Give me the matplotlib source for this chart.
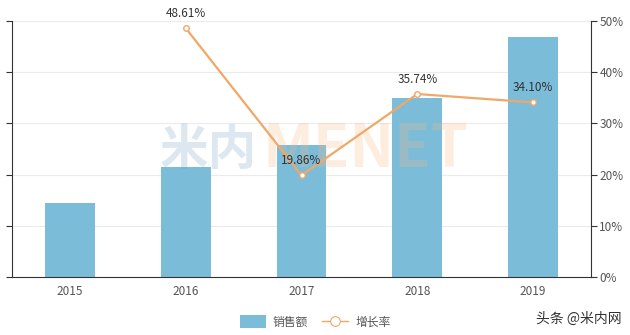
import matplotlib
matplotlib.use('Agg')
import matplotlib.pyplot as plt
from matplotlib.lines import Line2D
from matplotlib.patches import Patch
from matplotlib.ticker import FuncFormatter

plt.rcParams['font.family'] = ['Noto Sans CJK SC', 'DejaVu Sans']

# 数据
years = ['2015', '2016', '2017', '2018', '2019']
sales = [72.3, 107.5, 128.8, 174.8, 234.4]
growth_years = ['2016', '2017', '2018', '2019']
growth = [48.61, 19.86, 35.74, 34.10]

bar_color = '#7bbcd9'
line_color = '#f0a868'
text_color = '#555555'

fig = plt.figure(figsize=(6.3, 3.35), dpi=100)
ax = fig.add_axes([12 / 630, 1 - 277 / 335, (591 - 12) / 630, (277 - 21) / 335])

x = list(range(len(years)))
ax.bar(x, sales, width=0.43, color=bar_color, zorder=2)
ax.set_xlim(-0.5, len(years) - 0.5)
ax.set_ylim(0, 250)
ax.set_yticks([0, 50, 100, 150, 200, 250])
ax.set_yticklabels([])
ax.set_xticks(x)
ax.set_xticklabels(years, color=text_color, fontsize=8.5)
ax.tick_params(axis='x', length=0, pad=6)
ax.tick_params(axis='y', length=4, color='#333333', width=0.8)
ax.grid(axis='y', color='#ebebeb', linewidth=0.8, zorder=0)
for s in ['top', 'right']:
    ax.spines[s].set_visible(False)
ax.spines['left'].set_color('#333333')
ax.spines['bottom'].set_color('#333333')

# 水印
ax.text(1.2, 124, '米内', fontsize=35, fontweight='bold', color=(119/255, 163/255, 195/255),
        alpha=0.25, ha='center', va='center', zorder=3)
ax.text(2.55, 124, 'MENET', fontsize=43, fontweight='bold', color=(247/255, 187/255, 131/255),
        alpha=0.25, ha='center', va='center', zorder=3)

ax2 = ax.twinx()
gx = [years.index(y) for y in growth_years]
ax2.plot(gx, growth, color=line_color, linewidth=1.6, marker='o', markersize=4,
         markerfacecolor='white', markeredgecolor=line_color, markeredgewidth=1, zorder=3)
ax2.set_ylim(0, 50)
ax2.set_yticks([0, 10, 20, 30, 40, 50])
ax2.yaxis.set_major_formatter(FuncFormatter(lambda v, p: f'{v:.0f}%'))
ax2.tick_params(axis='y', length=4, color='#333333', width=0.8, labelsize=8.5,
                labelcolor=text_color, pad=2)
for s in ['top', 'left', 'bottom']:
    ax2.spines[s].set_visible(False)
ax2.spines['right'].set_color('#333333')

for xi, v in zip(gx, growth):
    ax2.annotate(f'{v:.2f}%', (xi, v), xytext=(0, 6), textcoords='offset points',
                 ha='center', va='bottom', fontsize=8.5, color='#333333')

handles = [Patch(facecolor=bar_color, edgecolor='none'),
           Line2D([0], [0], color=line_color, linewidth=1, marker='o', markersize=7,
                  markerfacecolor='white', markeredgecolor=line_color, markeredgewidth=0.8)]
fig.legend(handles, ['销售额', '增长率'], loc='center', bbox_to_anchor=(0.5, 1 - 322 / 335),
           ncol=2, frameon=False, fontsize=8.5, labelcolor=text_color,
           handlelength=2.2, handleheight=1.2, columnspacing=1.2, handletextpad=0.6)

fig.text(622 / 630, 1 - 319 / 335, '头条 @米内网', ha='right', va='center',
         fontsize=10, color='#333333')

fig.savefig('out.png', dpi=100)
